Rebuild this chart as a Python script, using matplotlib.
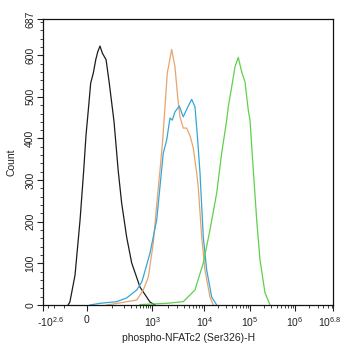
import numpy as np
import matplotlib
matplotlib.use("Agg")
import matplotlib.pyplot as plt
import matplotlib.transforms as mtransforms
from matplotlib.ticker import FixedLocator, NullFormatter

plt.rcParams['font.family'] = ['Liberation Sans', 'DejaVu Sans']
plt.rcParams['mathtext.fontset'] = 'custom'
plt.rcParams['mathtext.rm'] = 'Liberation Sans'
plt.rcParams['mathtext.it'] = 'Liberation Sans'

# ---------------- data (fluorescence value, count) ----------------
black_x = [-75, -65, -41, -22, -10, -2.2, 4.5, 11.3, 19, 26.5, 33, 41, 50, 66, 82,
           111, 143, 175, 234, 312, 500, 880, 1127]
black_y = [0, 7, 72, 204, 320, 408, 468, 533, 557, 589, 608, 622, 605, 589, 533,
           440, 322, 245, 163, 101, 43, 7, 0]

orange_x = [69, 158, 415, 601, 799, 1045, 1305, 1407, 1585, 1755, 1942, 2360, 2730,
            3078, 3407, 3940, 4585, 5400, 6140, 7137, 7660, 8910, 10360, 13300, 15740]
orange_y = [0, 5, 12, 36, 67, 149, 283, 324, 396, 476, 557, 614, 572,
            500, 452, 425, 425, 404, 377, 317, 283, 163, 84, 19, 0]

blue_x = [9.3, 41, 130, 234, 415, 550, 601, 880, 1215, 1627, 1890, 2187, 2422, 2730,
          3305, 3940, 4707, 5720, 6620, 7465, 8270, 9565, 11285, 14520, 18680]
blue_y = [0, 4, 8, 17, 36, 55, 67, 125, 204, 365, 396, 449, 444, 464,
          478, 452, 473, 494, 476, 396, 317, 163, 84, 19, 0]

green_x = [500, 1890, 3940, 6620, 9565, 13300, 18680, 24030, 30900, 33490, 39770,
           46950, 55400, 65700, 77600, 91700, 100000, 118350, 140900, 166800, 215500, 278400]
green_y = [1, 4, 8, 36, 101, 180, 269, 365, 444, 476, 524,
           572, 595, 560, 536, 468, 444, 324, 204, 108, 29, 0]

x_tick_values = [-10**2.6, 0, 1e3, 1e4, 1e5, 1e6, 10**6.8]
x_tick_labels = ["-10$^{2.6}$", "0", "10$^{3}$", "10$^{4}$", "10$^{5}$", "10$^{6}$", "10$^{6.8}$"]
y_tick_values = [0, 100, 200, 300, 400, 500, 600, 687]

# ---------------- biexponential-like axis scale ----------------
W = 50.0
ANCHOR_FRACS = np.array([0.0, 0.1494, 0.3762, 0.556, 0.714, 0.8697, 1.0])
ANCHOR_S = np.arcsinh(np.array(x_tick_values) / W)


def _interp_ext(x, xp, fp):
    x = np.asarray(x, dtype=float)
    y = np.interp(x, xp, fp)
    lo = x < xp[0]
    hi = x > xp[-1]
    s0 = (fp[1] - fp[0]) / (xp[1] - xp[0])
    s1 = (fp[-1] - fp[-2]) / (xp[-1] - xp[-2])
    y = np.where(lo, fp[0] + (x - xp[0]) * s0, y)
    y = np.where(hi, fp[-1] + (x - xp[-1]) * s1, y)
    return y


def fwd(v):
    return _interp_ext(np.arcsinh(np.asarray(v, dtype=float) / W), ANCHOR_S, ANCHOR_FRACS)


def inv(p):
    return W * np.sinh(_interp_ext(p, ANCHOR_FRACS, ANCHOR_S))


fig = plt.figure(figsize=(3.46, 3.50), dpi=100)
ax = fig.add_axes([0.1257, 0.1286, 0.8359, 0.8171])
ax.set_xscale('function', functions=(fwd, inv))

lw = 0.9
ax.plot(black_x, black_y, color='#1c1c1c', lw=lw)
ax.plot(orange_x, orange_y, color='#e9a36e', lw=lw)
ax.plot(blue_x, blue_y, color='#35a6d6', lw=lw)
ax.plot(green_x, green_y, color='#5fd04c', lw=lw)

ax.set_xlim(-10**2.6, 10**6.8)
ax.set_ylim(0, 687)

ax.xaxis.set_major_locator(FixedLocator(x_tick_values))
ax.set_xticklabels(x_tick_labels)
minor_x = [-300, -200, -100, 100, 200, 300, 400, 500, 600, 700, 800, 900]
for d in [3, 4, 5]:
    minor_x += [k * 10**d for k in range(2, 10)]
minor_x += [k * 1e6 for k in range(2, 7)]
ax.xaxis.set_minor_locator(FixedLocator(minor_x))
ax.xaxis.set_minor_formatter(NullFormatter())

ax.yaxis.set_major_locator(FixedLocator(y_tick_values))
ax.yaxis.set_minor_locator(FixedLocator([v for v in range(0, 687, 20) if v % 100 != 0]))
ax.set_yticklabels([str(v) for v in y_tick_values], rotation=90, va='center')

ax.tick_params(axis='both', which='major', length=4, width=0.8, labelsize=7.5, colors='#222222')
ax.tick_params(axis='both', which='minor', length=2, width=0.6, colors='#222222')
ax.tick_params(axis='x', pad=3)
ax.tick_params(axis='y', pad=2)

# edge tick labels sit slightly inward, as in the reference
xlabels = ax.get_xticklabels()
xlabels[0].set_transform(xlabels[0].get_transform() +
                         mtransforms.ScaledTranslation(7 / 100, 0, fig.dpi_scale_trans))
xlabels[-1].set_transform(xlabels[-1].get_transform() +
                          mtransforms.ScaledTranslation(-3 / 100, 0, fig.dpi_scale_trans))

for sp in ax.spines.values():
    sp.set_linewidth(0.9)
    sp.set_color('#111111')

ax.set_xlabel("phospho-NFATc2 (Ser326)-H", fontsize=7.5, color='#222222', labelpad=3)
ax.set_ylabel("Count", fontsize=7.5, color='#222222', labelpad=6)

fig.savefig("out.png", dpi=100)
